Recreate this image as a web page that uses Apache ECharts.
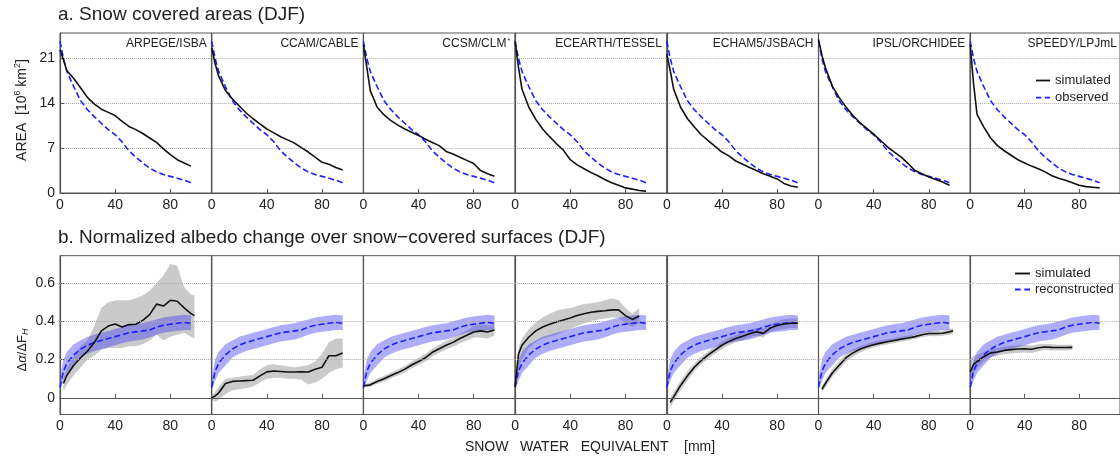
<!DOCTYPE html>
<html>
<head>
<meta charset="utf-8">
<script src="https://cdn.jsdelivr.net/npm/echarts@6/dist/echarts.min.js"></script>
<style>
html, body { margin: 0; padding: 0; background: #fff; }
#chart { width: 1120px; height: 458px; }
</style>
</head>
<body>
<div id="chart"></div>
<script>
var models = ['ARPEGE/ISBA', 'CCAM/CABLE', 'CCSM/CLM{s|*}', 'ECEARTH/TESSEL', 'ECHAM5/JSBACH', 'IPSL/ORCHIDEE', 'SPEEDY/LPJmL'];

// a. snow covered area (10^6 km2) vs SWE (mm)
var sweTop = [0, 2.5, 5, 10, 15, 20, 25, 30, 35, 40, 45, 50, 55, 60, 65, 70, 75, 80, 85, 90, 95];
var areaObs     = [23.7, 21.0, 19.0, 16.6, 14.4, 13.0, 11.9, 10.9, 9.9, 9.1, 8.0, 6.6, 5.6, 4.7, 3.9, 3.3, 2.9, 2.6, 2.3, 2.0, 1.6];
var areaArpege  = [22.4, 20.8, 19.1, 17.9, 16.4, 14.9, 13.9, 13.1, 12.6, 12.1, 11.2, 10.4, 9.9, 9.3, 8.6, 7.9, 6.9, 6.0, 5.2, 4.7, 4.2];
var areaCcam    = [22.7, 20.2, 18.3, 16.0, 14.7, 13.6, 12.5, 11.6, 10.8, 10.0, 9.4, 8.8, 8.3, 7.8, 7.1, 6.4, 5.6, 4.8, 4.5, 4.0, 3.6];
var areaCcsm    = [23.2, 19.6, 16.0, 13.4, 12.2, 11.3, 10.6, 10.0, 9.5, 9.0, 8.4, 7.9, 7.4, 6.5, 6.1, 5.6, 5.1, 4.6, 3.5, 3.0, 2.6];
var areaEcearth = [23.7, 19.6, 16.2, 13.4, 11.5, 10.0, 8.8, 7.7, 6.7, 5.2, 4.4, 3.8, 3.2, 2.7, 2.1, 1.6, 1.2, 0.8, 0.6, 0.4, 0.3];
var areaEcham   = [21.7, 19.1, 16.2, 13.4, 11.6, 10.3, 9.1, 8.2, 7.3, 6.4, 5.8, 5.0, 4.5, 4.0, 3.5, 3.0, 2.6, 2.2, 1.5, 1.1, 0.9];
var areaIpsl    = [24.0, 21.5, 19.6, 16.7, 14.9, 13.4, 12.1, 11.0, 10.1, 9.2, 8.2, 7.2, 6.4, 5.6, 4.6, 3.5, 3.0, 2.5, 2.1, 1.7, 1.2];
var areaSpeedy  = [23.2, 17.0, 12.3, 10.3, 8.6, 7.4, 6.6, 5.9, 5.2, 4.7, 4.2, 3.8, 3.3, 2.7, 2.3, 2.0, 1.6, 1.2, 1.0, 0.9, 0.8];
var areaSims = [areaArpege, areaCcam, areaCcsm, areaEcearth, areaEcham, areaIpsl, areaSpeedy];

// b. normalized albedo change vs SWE (mm)
var sweBot = [0, 2.5, 5, 10, 15, 20, 25, 30, 35, 40, 45, 50, 55, 60, 65, 70, 75, 80, 85, 90, 95, 97.5];
var recMean = [0.055, 0.14, 0.18, 0.225, 0.255, 0.275, 0.29, 0.30, 0.31, 0.32, 0.33, 0.34, 0.345, 0.35, 0.355, 0.37, 0.38, 0.385, 0.39, 0.395, 0.39, null];
var recHi   = [0.10, 0.20, 0.24, 0.28, 0.30, 0.32, 0.33, 0.34, 0.35, 0.36, 0.37, 0.38, 0.385, 0.39, 0.40, 0.41, 0.42, 0.425, 0.43, 0.435, 0.43, null];
var recLo   = [0.045, 0.09, 0.13, 0.17, 0.21, 0.23, 0.245, 0.255, 0.265, 0.275, 0.285, 0.295, 0.30, 0.305, 0.315, 0.33, 0.34, 0.345, 0.35, 0.355, 0.355, null];

var albArpege   = [null, 0.075, 0.118, 0.17, 0.21, 0.245, 0.29, 0.35, 0.375, 0.386, 0.37, 0.383, 0.385, 0.405, 0.435, 0.49, 0.48, 0.51, 0.505, 0.47, 0.44, 0.43];
var albArpegeHi = [null, 0.10, 0.15, 0.22, 0.27, 0.30, 0.38, 0.47, 0.50, 0.51, 0.51, 0.51, 0.52, 0.535, 0.56, 0.60, 0.64, 0.70, 0.69, 0.58, 0.54, 0.535];
var albArpegeLo = [null, 0.035, 0.07, 0.12, 0.16, 0.20, 0.22, 0.25, 0.26, 0.26, 0.26, 0.27, 0.27, 0.28, 0.30, 0.33, 0.30, 0.32, 0.33, 0.34, 0.32, 0.31];

var albCcam   = [0.0, 0.01, 0.025, 0.075, 0.086, 0.088, 0.09, 0.092, 0.115, 0.136, 0.14, 0.138, 0.135, 0.135, 0.136, 0.135, 0.15, 0.16, 0.22, 0.22, 0.235, null];
var albCcamHi = [0.01, 0.03, 0.06, 0.10, 0.105, 0.11, 0.115, 0.12, 0.15, 0.17, 0.175, 0.17, 0.165, 0.16, 0.165, 0.17, 0.19, 0.23, 0.29, 0.31, 0.31, null];
var albCcamLo = [-0.01, -0.02, -0.01, 0.02, 0.04, 0.045, 0.05, 0.06, 0.08, 0.10, 0.105, 0.105, 0.10, 0.10, 0.095, 0.07, 0.08, 0.10, 0.13, 0.15, 0.16, null];

var albCcsm   = [0.063, 0.065, 0.068, 0.085, 0.10, 0.117, 0.132, 0.15, 0.172, 0.19, 0.21, 0.238, 0.257, 0.275, 0.29, 0.31, 0.327, 0.344, 0.35, 0.344, 0.355, null];
var albCcsmHi = [0.07, 0.075, 0.08, 0.10, 0.115, 0.132, 0.148, 0.167, 0.19, 0.21, 0.23, 0.258, 0.278, 0.297, 0.313, 0.335, 0.355, 0.375, 0.385, 0.38, 0.385, null];
var albCcsmLo = [0.055, 0.055, 0.058, 0.072, 0.086, 0.102, 0.117, 0.133, 0.155, 0.172, 0.19, 0.218, 0.236, 0.253, 0.267, 0.285, 0.30, 0.315, 0.315, 0.31, 0.325, null];

var albEcearth   = [0.057, 0.23, 0.275, 0.318, 0.35, 0.37, 0.385, 0.397, 0.407, 0.417, 0.43, 0.44, 0.447, 0.452, 0.455, 0.46, 0.46, 0.43, 0.41, 0.428, null, null];
var albEcearthHi = [0.08, 0.26, 0.31, 0.36, 0.395, 0.42, 0.44, 0.455, 0.465, 0.47, 0.48, 0.49, 0.495, 0.50, 0.51, 0.52, 0.51, 0.47, 0.44, 0.47, null, null];
var albEcearthLo = [0.04, 0.15, 0.20, 0.26, 0.29, 0.31, 0.32, 0.33, 0.345, 0.36, 0.375, 0.39, 0.40, 0.41, 0.415, 0.42, 0.42, 0.39, 0.37, 0.39, null, null];

var albEcham   = [null, -0.024, 0.005, 0.065, 0.115, 0.16, 0.195, 0.225, 0.25, 0.275, 0.295, 0.31, 0.322, 0.335, 0.345, 0.337, 0.365, 0.378, 0.386, 0.39, 0.39, null];
var albEchamHi = [null, 0.0, 0.03, 0.09, 0.14, 0.18, 0.215, 0.245, 0.27, 0.295, 0.315, 0.33, 0.343, 0.355, 0.365, 0.36, 0.385, 0.40, 0.41, 0.415, 0.415, null];
var albEchamLo = [null, -0.05, -0.02, 0.04, 0.09, 0.14, 0.175, 0.205, 0.23, 0.255, 0.275, 0.29, 0.30, 0.315, 0.325, 0.315, 0.345, 0.355, 0.36, 0.365, 0.365, null];

var albIpsl   = [null, 0.045, 0.075, 0.13, 0.17, 0.21, 0.235, 0.254, 0.267, 0.278, 0.286, 0.293, 0.30, 0.307, 0.313, 0.32, 0.33, 0.336, 0.336, 0.338, 0.345, 0.35];
var albIpslHi = [null, 0.06, 0.095, 0.15, 0.19, 0.23, 0.253, 0.27, 0.282, 0.293, 0.30, 0.307, 0.313, 0.32, 0.326, 0.333, 0.343, 0.349, 0.35, 0.352, 0.36, 0.365];
var albIpslLo = [null, 0.03, 0.055, 0.11, 0.15, 0.19, 0.215, 0.237, 0.252, 0.263, 0.272, 0.279, 0.287, 0.294, 0.30, 0.307, 0.317, 0.323, 0.322, 0.324, 0.33, 0.335];

var albSpeedy   = [0.136, 0.175, 0.19, 0.215, 0.235, 0.24, 0.248, 0.252, 0.255, 0.257, 0.254, 0.262, 0.266, 0.264, 0.263, 0.263, 0.264, null, null, null, null, null];
var albSpeedyHi = [0.20, 0.22, 0.225, 0.24, 0.255, 0.26, 0.268, 0.272, 0.275, 0.277, 0.274, 0.28, 0.283, 0.28, 0.278, 0.278, 0.278, null, null, null, null, null];
var albSpeedyLo = [0.095, 0.13, 0.155, 0.19, 0.213, 0.22, 0.228, 0.232, 0.235, 0.237, 0.234, 0.244, 0.25, 0.248, 0.248, 0.248, 0.25, null, null, null, null, null];

var albSims = [albArpege, albCcam, albCcsm, albEcearth, albEcham, albIpsl, albSpeedy];
var albHis  = [albArpegeHi, albCcamHi, albCcsmHi, albEcearthHi, albEchamHi, albIpslHi, albSpeedyHi];
var albLos  = [albArpegeLo, albCcamLo, albCcsmLo, albEcearthLo, albEchamLo, albIpslLo, albSpeedyLo];

var yTicksTop = 7;
var yTicksBot = [0, 0.2, 0.4, 0.6];

var FONT = '"Liberation Sans", Arial, Helvetica, sans-serif';
var PW = 151.7;
var BLACK = '#111';
var BLUE = '#1f1fff';
var FRAME = '#555';
var GRAY_BAND = 'rgba(128,128,128,0.42)';
var BLUE_BAND = 'rgba(60,60,240,0.42)';

function pts(xs, ys) {
  return xs.map(function (x, k) { return ys[k] == null ? [x, '-'] : [x, ys[k]]; });
}

// shaded range between lo and hi, drawn through the axis scales (api.coord)
function bandSeries(ax, xs, lo, hi, color, z) {
  var first = -1;
  for (var k = 0; k < xs.length; k++) { if (lo[k] != null && hi[k] != null) { first = k; break; } }
  return {
    type: 'custom', xAxisIndex: ax, yAxisIndex: ax, silent: true, z: z,
    encode: { x: 0, y: [1, 2] },
    data: xs.map(function (x, k) { return [x, lo[k] == null ? '-' : lo[k], hi[k] == null ? '-' : hi[k]]; }),
    renderItem: function (params, api) {
      if (params.dataIndex !== first) return null;
      var children = [], run = [];
      function flush() {
        if (run.length > 1) {
          var up = run.map(function (j) { return api.coord([xs[j], hi[j]]); });
          var dn = run.slice().reverse().map(function (j) { return api.coord([xs[j], lo[j]]); });
          children.push({ type: 'polygon', shape: { points: up.concat(dn) }, style: { fill: color } });
        }
        run = [];
      }
      for (var j = 0; j < xs.length; j++) {
        if (lo[j] == null || hi[j] == null) flush(); else run.push(j);
      }
      flush();
      return { type: 'group', children: children };
    }
  };
}

var chart = echarts.init(document.getElementById('chart'));
var grids = [], xAxes = [], yAxes = [], series = [], graphics = [];

for (var r = 0; r < 2; r++) {
  for (var i = 0; i < 7; i++) {
    var gi = r * 7 + i;
    grids.push({
      left: 60 + i * PW, width: PW,
      top: r ? 255.7 : 33, height: r ? 158.8 : 160,
      show: true, borderColor: FRAME, borderWidth: 1
    });
    xAxes.push({
      gridIndex: gi, type: 'value', min: 0, max: 110, interval: 40,
      axisLine: { lineStyle: { color: FRAME, width: 1.2 } },
      axisTick: { inside: true, length: 4, lineStyle: { color: FRAME } },
      axisLabel: { showMaxLabel: false, color: '#222', fontSize: 14, margin: 5, fontFamily: FONT },
      splitLine: { show: false }
    });
    if (r === 0) {
      yAxes.push({
        gridIndex: gi, type: 'value', min: 0, max: 25, interval: yTicksTop,
        axisLine: { show: true, lineStyle: { color: FRAME, width: 1.2 } },
        axisTick: { show: i === 0, inside: true, length: 4, lineStyle: { color: FRAME } },
        axisLabel: { show: i === 0, showMaxLabel: false, color: '#222', fontSize: 14, margin: 5, fontFamily: FONT },
        splitLine: { show: true, lineStyle: { color: '#aaa', type: 'dotted', width: 1 } }
      });
    } else {
      yAxes.push({
        gridIndex: gi, type: 'value', min: -0.087, max: 0.743,
        axisLine: { show: true, lineStyle: { color: FRAME, width: 1.2 } },
        axisTick: { show: i === 0, inside: true, length: 4, customValues: yTicksBot, lineStyle: { color: FRAME } },
        axisLabel: { show: i === 0, customValues: yTicksBot, color: '#222', fontSize: 14, margin: 5, fontFamily: FONT },
        splitLine: { show: false }
      });
    }
  }
}

// top row
for (var i = 0; i < 7; i++) {
  series.push({
    type: 'line', name: 'simulated', xAxisIndex: i, yAxisIndex: i,
    data: pts(sweTop, areaSims[i]), symbol: 'none', z: 4,
    lineStyle: { color: BLACK, width: 1.6 }, itemStyle: { color: BLACK }
  });
  series.push({
    type: 'line', name: 'observed', xAxisIndex: i, yAxisIndex: i,
    data: pts(sweTop, areaObs), symbol: 'none', z: 3,
    lineStyle: { color: BLUE, width: 1.6, type: [6, 3] }, itemStyle: { color: BLUE }
  });
}

// bottom row
for (var i = 0; i < 7; i++) {
  var ax = 7 + i;
  var gs = bandSeries(ax, sweBot, albLos[i], albHis[i], GRAY_BAND, 1);
  gs.markLine = {
    silent: true, symbol: 'none', label: { show: false },
    data: yTicksBot.map(function (v) {
      return { yAxis: v, lineStyle: v === 0 ? { color: FRAME, type: 'solid', width: 1 } : { color: '#aaa', type: 'dotted', width: 1 } };
    })
  };
  series.push(gs);
  series.push(bandSeries(ax, sweBot, recLo, recHi, BLUE_BAND, 2));
  series.push({
    type: 'line', name: 'simulated', xAxisIndex: ax, yAxisIndex: ax,
    data: pts(sweBot, albSims[i]), symbol: 'none', z: 4,
    lineStyle: { color: BLACK, width: 1.6 }, itemStyle: { color: BLACK }
  });
  series.push({
    type: 'line', name: 'reconstructed', xAxisIndex: ax, yAxisIndex: ax,
    data: pts(sweBot, recMean), symbol: 'none', z: 3,
    lineStyle: { color: BLUE, width: 1.6, type: [6, 3] }, itemStyle: { color: BLUE }
  });
}

// texts
graphics.push({ type: 'text', left: 58, top: 5, style: { text: 'a. Snow covered areas (DJF)', font: '19px ' + FONT, fill: '#222' } });
graphics.push({ type: 'text', left: 58, top: 228, style: { text: 'b. Normalized albedo change over snow\u2212covered surfaces (DJF)', font: '19px ' + FONT, fill: '#222' } });
for (var i = 0; i < 7; i++) {
  graphics.push({
    type: 'text', x: 60 + (i + 1) * PW - 5, y: 44,
    style: {
      text: models[i], align: 'right', verticalAlign: 'middle', font: '12px ' + FONT, fill: '#222',
      rich: { s: { fontSize: 7, verticalAlign: 'top', fill: '#222', padding: [0, 0, 6, 1] } }
    }
  });
}
graphics.push({
  type: 'text', x: 22, y: 110, rotation: Math.PI / 2,
  style: {
    text: 'AREA  [10{s|6} km{s|2}]', align: 'center', verticalAlign: 'middle', font: '14px ' + FONT, fill: '#222',
    rich: { s: { fontSize: 9, padding: [0, 0, 8, 0], fill: '#222' } }
  }
});
graphics.push({
  type: 'text', x: 22, y: 350, rotation: Math.PI / 2,
  style: {
    text: '\u0394{i|\u03b1}/\u0394F{b|H}', align: 'center', verticalAlign: 'middle', font: '13px ' + FONT, fill: '#222',
    rich: { i: { fontSize: 13, fontStyle: 'italic', fill: '#222' }, b: { fontSize: 9, fontStyle: 'italic', padding: [6, 0, 0, 0], fill: '#222' } }
  }
});
graphics.push({
  type: 'text', x: 590, y: 447,
  style: { text: 'SNOW   WATER   EQUIVALENT    [mm]', align: 'center', verticalAlign: 'middle', font: '14px ' + FONT, fill: '#222' }
});

var SOLID_ICON = 'path://M0,0H16V2H0Z';
var DASH_ICON = 'path://M0,0H6V2H0Z M10,0H16V2H10Z';

var option = {
  animation: false,
  backgroundColor: '#fff',
  grid: grids,
  xAxis: xAxes,
  yAxis: yAxes,
  legend: [
    {
      data: [{ name: 'simulated', icon: SOLID_ICON }, { name: 'observed', icon: DASH_ICON }],
      orient: 'vertical', left: 1031, top: 69,
      itemWidth: 14, itemHeight: 2, itemGap: 4, selectedMode: false,
      textStyle: { fontSize: 13, color: '#222', fontFamily: FONT }
    },
    {
      data: [{ name: 'simulated', icon: SOLID_ICON }, { name: 'reconstructed', icon: DASH_ICON }],
      orient: 'vertical', left: 1010, top: 262,
      itemWidth: 15, itemHeight: 2, itemGap: 3, selectedMode: false,
      textStyle: { fontSize: 13, color: '#222', fontFamily: FONT }
    }
  ],
  graphic: graphics,
  series: series
};
chart.setOption(option);
</script>
</body>
</html>
